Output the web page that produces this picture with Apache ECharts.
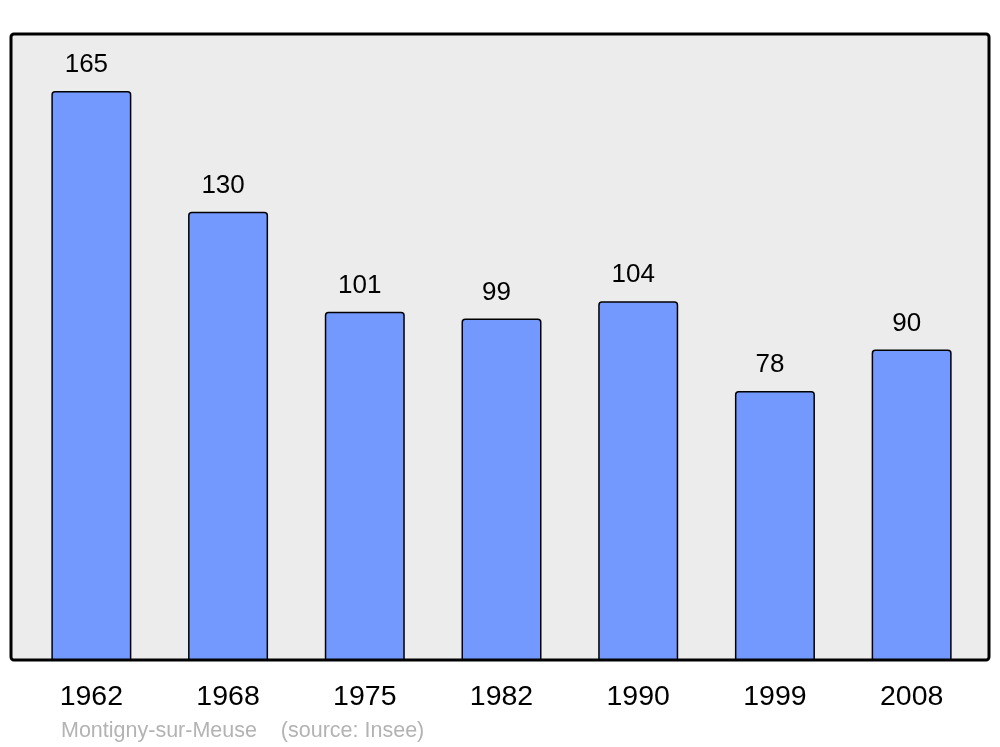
<!DOCTYPE html>
<html><head><meta charset="utf-8">
<script src="https://cdn.jsdelivr.net/npm/echarts@6/dist/echarts.min.js"></script>
<style>html,body{margin:0;padding:0;background:#fff}#c{width:1000px;height:747px}</style>
</head><body><div id="c"></div>
<script>
const years = ['1962','1968','1975','1982','1990','1999','2008'];
const population = [165,130,101,99,104,78,90];
const footer = 'Montigny-sur-Meuse    (source: Insee)';

const chart = echarts.init(document.getElementById('c'), null, {renderer:'canvas'});
chart.setOption({
  animation:false,
  backgroundColor:'#ffffff',
  graphic:[
    {type:'rect', z:-1, shape:{x:11,y:34,width:978,height:626,r:3}, style:{fill:'#ececec',stroke:'#000',lineWidth:3}},
    {type:'text', left:61, top:720, style:{text:footer, fill:'#b3b3b3', font:'21.5px "Liberation Sans", Arial, sans-serif'}}
  ],
  grid:{left:23,right:20,top:34,bottom:87},
  xAxis:{type:'category', data:years, axisLine:{show:false}, axisTick:{show:false},
    axisLabel:{fontSize:28.5, color:'#000', fontFamily:'"Liberation Sans", Arial, sans-serif', margin:23}},
  yAxis:{type:'value', min:0, max:181.5, show:false, splitLine:{show:false}},
  series:[{type:'bar', data:population, barWidth:80,
    itemStyle:{color:'#7399ff', borderColor:'#000', borderWidth:1.5, borderRadius:[3,3,0,0]},
    label:{show:true, position:'top', distance:13, offset:[-5,0], fontSize:26, color:'#000',
      fontFamily:'"Liberation Sans", Arial, sans-serif'}}]
});
</script></body></html>
